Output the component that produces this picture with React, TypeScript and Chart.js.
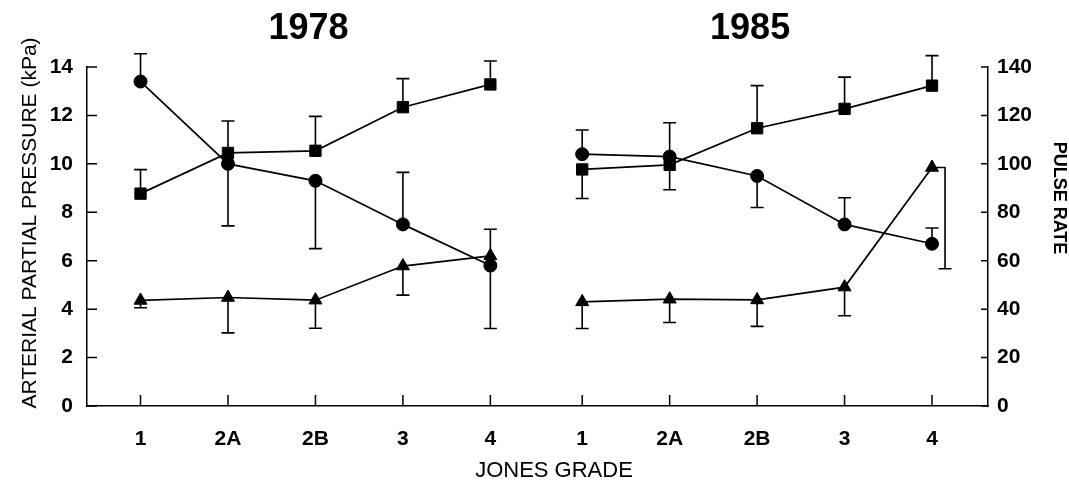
import React, { useEffect, useRef } from 'react';
import { Chart, registerables } from 'chart.js';

Chart.register(...registerables);

// ---- data ----
const GRADES = ['1', '2A', '2B', '3', '4'];
const YEARS = ['1978', '1985'];

// Arterial PO2 (kPa) – circles; signed SD (+ drawn upward, - drawn downward)
const PO2_1978 = [13.4, 10.0, 9.3, 7.5, 5.8];
const PO2_SD_1978 = [1.15, -2.56, -2.8, 2.15, -2.6];
const PO2_1985 = [10.4, 10.3, 9.5, 7.5, 6.7];
const PO2_SD_1985 = [1.0, 1.4, -1.3, 1.1, 0.65];

// Pulse rate – squares (right axis)
const PULSE_1978 = [87.7, 104.5, 105.4, 123.4, 132.8];
const PULSE_SD_1978 = [9.9, 13.2, 14.2, 11.8, 9.7];
const PULSE_1985 = [97.7, 99.6, 114.7, 122.7, 132.3];
const PULSE_SD_1985 = [-12, -10.3, 17.6, 13.1, 12.4];

// Arterial PCO2 (kPa) – triangles
const PCO2_1978 = [4.36, 4.48, 4.37, 5.78, 6.2];
const PCO2_SD_1978 = [-0.3, -1.46, -1.16, -1.2, 1.1];
const PCO2_1985 = [4.3, 4.41, 4.38, 4.91, 9.85];
const PCO2_SD_1985 = [-1.1, -0.96, -1.09, -1.18, -4.18];

const LEFT_TICKS = [0, 2, 4, 6, 8, 10, 12, 14];
const RIGHT_TICKS = [0, 20, 40, 60, 80, 100, 120, 140];

const LEFT_TITLE = 'ARTERIAL PARTIAL PRESSURE (kPa)';
const RIGHT_TITLE = 'PULSE RATE';
const X_TITLE = 'JONES GRADE';

// ---- layout helpers ----
const GROUP_OFFSET = 5.05;
const FONT = "'Liberation Sans', Arial, Helvetica, sans-serif";
const xPositions = [
  ...GRADES.map((_, i) => i),
  ...GRADES.map((_, i) => GROUP_OFFSET + i),
];

function pts(values: number[], group: number) {
  return values.map((v, i) => ({ x: group * GROUP_OFFSET + i, y: v }));
}

function makeSet(values: number[], sd: number[], group: number, style: string, radius: number, axis: string, bracket = -1) {
  return {
    data: pts(values, group),
    errors: sd,
    bracket,
    yAxisID: axis,
    borderColor: '#000',
    backgroundColor: '#000',
    borderWidth: 1.7,
    pointStyle: style,
    pointRadius: radius,
    pointBackgroundColor: '#000',
    pointBorderColor: '#000',
    pointBorderWidth: 1,
    tension: 0,
    fill: false,
  };
}

const decorPlugin = {
  id: 'decor',
  beforeDatasetsDraw(chart: any) {
    const ctx = chart.ctx;
    ctx.save();
    ctx.strokeStyle = '#000';
    ctx.lineWidth = 1.6;
    const cap = 6.5;
    chart.data.datasets.forEach((ds: any, di: number) => {
      const meta = chart.getDatasetMeta(di);
      const scale = chart.scales[ds.yAxisID];
      meta.data.forEach((el: any, j: number) => {
        const v = ds.data[j].y + ds.errors[j];
        const yEnd = scale.getPixelForValue(v);
        let x = el.x;
        ctx.beginPath();
        if (ds.bracket === j) {
          const bx = x + 13;
          ctx.moveTo(x, el.y);
          ctx.lineTo(bx, el.y);
          ctx.lineTo(bx, yEnd);
          x = bx;
        } else {
          ctx.moveTo(x, el.y);
          ctx.lineTo(x, yEnd);
        }
        ctx.moveTo(x - cap, yEnd);
        ctx.lineTo(x + cap, yEnd);
        ctx.stroke();
      });
    });
    ctx.restore();
  },
  afterDraw(chart: any) {
    const ctx = chart.ctx;
    const { left, right, bottom } = chart.chartArea;
    const xs = chart.scales.x;
    const yl = chart.scales.y;
    const yr = chart.scales.y1;
    ctx.save();
    ctx.strokeStyle = '#000';
    ctx.lineWidth = 1.5;
    ctx.beginPath();
    LEFT_TICKS.forEach((t) => {
      const y = yl.getPixelForValue(t);
      ctx.moveTo(left, y);
      ctx.lineTo(left + 10, y);
    });
    RIGHT_TICKS.forEach((t) => {
      const y = yr.getPixelForValue(t);
      ctx.moveTo(right, y);
      ctx.lineTo(right - 7, y);
    });
    xPositions.forEach((p) => {
      const x = xs.getPixelForValue(p);
      ctx.moveTo(x, bottom);
      ctx.lineTo(x, bottom - 11);
    });
    ctx.stroke();

    ctx.fillStyle = '#000';
    ctx.textAlign = 'center';
    ctx.textBaseline = 'middle';
    // year titles
    ctx.font = `bold 36px ${FONT}`;
    ctx.fillText(YEARS[0], xs.getPixelForValue(2) - 7, 29);
    ctx.fillText(YEARS[1], xs.getPixelForValue(GROUP_OFFSET + 2) - 7, 29);
    // x title
    ctx.font = `22px ${FONT}`;
    ctx.fillText(X_TITLE, 554, 471);
    // left title
    ctx.save();
    ctx.translate(30, 223);
    ctx.rotate(-Math.PI / 2);
    ctx.font = `21px ${FONT}`;
    ctx.fillText(LEFT_TITLE, 0, 0);
    ctx.restore();
    // right title
    ctx.save();
    ctx.translate(1059, 198);
    ctx.rotate(Math.PI / 2);
    ctx.font = `bold 18px ${FONT}`;
    ctx.fillText(RIGHT_TITLE, 0, 0);
    ctx.restore();
    ctx.restore();
  },
};

export default function App() {
  const ref = useRef<HTMLCanvasElement | null>(null);
  useEffect(() => {
    document.body.style.margin = '0';
    document.body.style.background = '#fff';
    const canvas = ref.current;
    if (!canvas) return;
    const datasets = [
      makeSet(PO2_1978, PO2_SD_1978, 0, 'circle', 6.5, 'y'),
      makeSet(PO2_1985, PO2_SD_1985, 1, 'circle', 6.5, 'y'),
      makeSet(PULSE_1978, PULSE_SD_1978, 0, 'rect', 8, 'y1'),
      makeSet(PULSE_1985, PULSE_SD_1985, 1, 'rect', 8, 'y1'),
      makeSet(PCO2_1978, PCO2_SD_1978, 0, 'triangle', 7.5, 'y'),
      makeSet(PCO2_1985, PCO2_SD_1985, 1, 'triangle', 7.5, 'y', 4),
    ];
    const tickFont = { family: FONT, size: 21, weight: 'bold' as const };
    const chart = new Chart(canvas, {
      type: 'line',
      data: { datasets: datasets as any },
      options: {
        animation: false,
        responsive: false,
        devicePixelRatio: 1,
        layout: { padding: { top: 67, left: 0, right: 0, bottom: 0 } },
        plugins: { legend: { display: false }, tooltip: { enabled: false }, title: { display: false } },
        scales: {
          x: {
            type: 'linear',
            min: -0.612,
            max: 9.69,
            grid: { display: false, drawTicks: false },
            border: { display: true, color: '#000', width: 1.5 },
            afterBuildTicks: (s: any) => {
              s.ticks = xPositions.map((v) => ({ value: v }));
            },
            afterFit: (s: any) => {
              s.height = 75;
            },
            ticks: {
              color: '#000',
              font: tickFont,
              padding: 21,
              maxRotation: 0,
              autoSkip: false,
              callback: (_v: any, i: number) => GRADES[i % GRADES.length],
            },
          },
          y: {
            type: 'linear',
            position: 'left',
            min: 0,
            max: 14,
            grid: { display: false, drawTicks: false },
            border: { display: true, color: '#000', width: 1.5 },
            afterBuildTicks: (s: any) => {
              s.ticks = LEFT_TICKS.map((v) => ({ value: v }));
            },
            afterFit: (s: any) => {
              s.width = 87;
            },
            ticks: { color: '#000', font: tickFont, padding: 14 },
          },
          y1: {
            type: 'linear',
            position: 'right',
            min: 0,
            max: 140,
            grid: { display: false, drawTicks: false },
            border: { display: true, color: '#000', width: 1.5 },
            afterBuildTicks: (s: any) => {
              s.ticks = RIGHT_TICKS.map((v) => ({ value: v }));
            },
            afterFit: (s: any) => {
              s.width = 81;
            },
            ticks: { color: '#000', font: tickFont, padding: 9 },
          },
        },
      },
      plugins: [decorPlugin],
    });
    return () => chart.destroy();
  }, []);
  return (
    <div style={{ width: 1069, height: 481, background: '#fff' }}>
      <canvas ref={ref} width={1069} height={481} />
    </div>
  );
}
